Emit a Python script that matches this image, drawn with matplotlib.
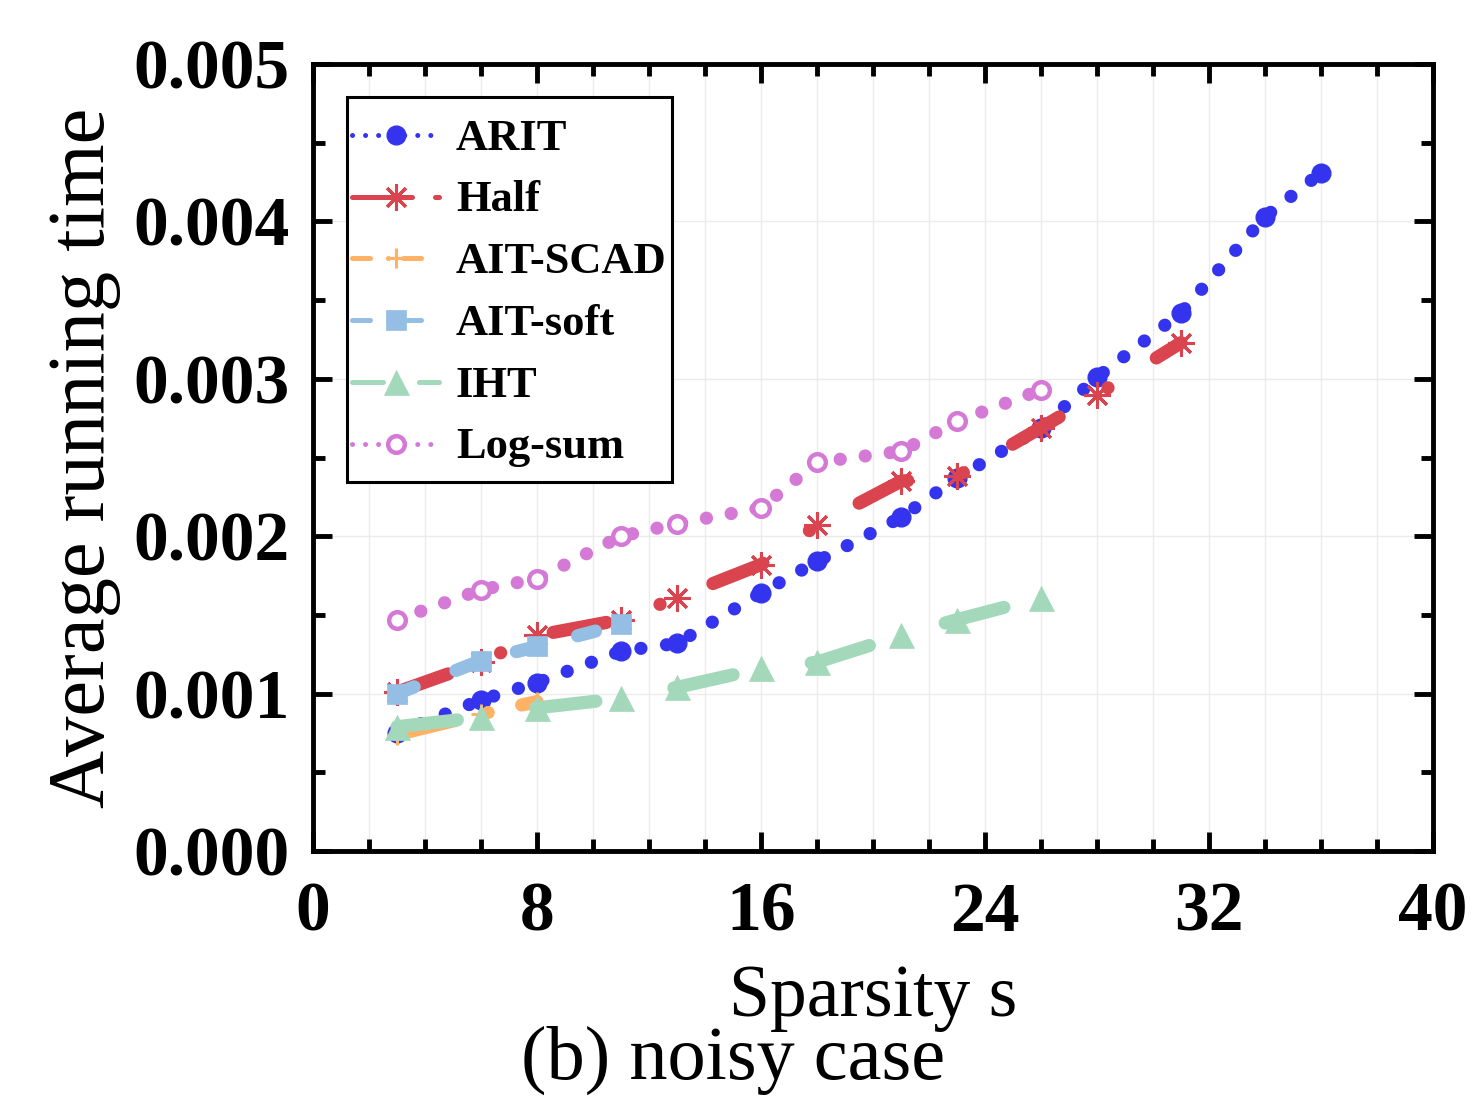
"""Average running time vs sparsity, noisy case."""

import matplotlib

matplotlib.use("Agg")
import matplotlib.pyplot as plt
from matplotlib.legend_handler import HandlerLine2D
from matplotlib.lines import Line2D
from matplotlib.ticker import FormatStrFormatter, MultipleLocator

plt.rcParams["font.family"] = ["Liberation Serif", "DejaVu Serif"]

# ---- data ----
x_arit = [3, 6, 8, 11, 13, 16, 18, 21, 23, 26, 28, 31, 34, 36]
y_arit = [0.00075, 0.00096, 0.00107, 0.00127, 0.00132, 0.00164, 0.00184,
          0.00212, 0.00237, 0.00269, 0.00301, 0.00342, 0.00403, 0.00431]

x_half = [3, 6, 8, 11, 13, 16, 18, 21, 23, 26, 28, 31]
y_half = [0.00101, 0.00120, 0.00137, 0.00147, 0.00161, 0.00182, 0.00207,
          0.00235, 0.00238, 0.00269, 0.00290, 0.00323]

x_scad = [3, 6, 8]
y_scad = [0.00074, 0.00087, 0.00095]

x_soft = [3, 6, 8, 11]
y_soft = [0.00100, 0.00121, 0.00130, 0.00144]

x_iht = [3, 6, 8, 11, 13, 16, 18, 21, 23, 26]
y_iht = [0.00079, 0.00085, 0.00091, 0.00097, 0.00104, 0.00116, 0.00120,
         0.00137, 0.00147, 0.00161]

x_log = [3, 6, 8, 11, 13, 16, 18, 21, 23, 26]
y_log = [0.00147, 0.00166, 0.00173, 0.00200, 0.00208, 0.00218, 0.00247,
         0.00254, 0.00273, 0.00293]

labels = ["ARIT", "Half", "AIT-SCAD", "AIT-soft", "IHT", "Log-sum"]
colors = ["#3434EE", "#D9444F", "#FFB266", "#95BEE4", "#A3D8BA", "#D47AD6"]

# (marker, size, edge width, face) per series
markers = [("o", 13.5, 1.0, None), ((8, 2, 0), 19, 2.2, None),
           ("+", 15, 2.2, None), ("s", 14.5, 0.5, None),
           ("^", 18, 0.5, None), ("o", 12, 3.2, "white")]

# dash patterns in linewidth units: thick lines in the plot, thin in the legend
plot_dashes = [(0.01, 1.95), (4.1, 4.3, 0.01, 4.3), (4.5, 2.6, 0.01, 2.6),
               (1.4, 3.4), (4.6, 6.0), (0.01, 1.9)]
legend_dashes = [(0.01, 2.6), (12, 4.6, 1, 4.6), (3.6, 3.6, 0.01, 3.0),
                 (3.6, 3.6, 0.01, 3.0), (6.2, 7.2), (0.01, 2.6)]

series = [(x_arit, y_arit), (x_half, y_half), (x_scad, y_scad),
          (x_soft, y_soft), (x_iht, y_iht), (x_log, y_log)]


class LowHandler(HandlerLine2D):
    # tall legend rows: put the sample line level with the label text
    def create_artists(self, legend, orig_handle, xdescent, ydescent,
                       width, height, fontsize, trans):
        return super().create_artists(legend, orig_handle, xdescent, ydescent,
                                      width, height - 0.4 * fontsize,
                                      fontsize, trans)


fig = plt.figure(figsize=(14.73, 10.97), dpi=100)
ax = fig.add_axes([0.2125, 0.2242, 0.7604, 0.7174])

handles = []
for (xs, ys), lab, col, mk, pd, ld in zip(series, labels, colors, markers,
                                         plot_dashes, legend_dashes):
    m, ms, mew, mfc = mk
    ax.plot(xs, ys, color=col, lw=9.5, dashes=pd, dash_capstyle="round",
            solid_capstyle="round", marker=m, ms=ms, mew=mew, mec=col,
            mfc=mfc if mfc else col, zorder=3)
    handles.append(Line2D([], [], color=col, lw=3.6, dashes=ld,
                          dash_capstyle="round", marker=m, ms=ms, mew=mew,
                          mec=col, mfc=mfc if mfc else col))

ax.set_xlim(0, 40)
ax.set_ylim(0, 0.005)
ax.xaxis.set_major_locator(MultipleLocator(8))
ax.xaxis.set_minor_locator(MultipleLocator(2))
ax.yaxis.set_major_locator(MultipleLocator(0.001))
ax.yaxis.set_minor_locator(MultipleLocator(0.0005))
ax.yaxis.set_major_formatter(FormatStrFormatter("%.3f"))

ax.grid(which="both", axis="x", color="#EBEBEB", lw=1.0, zorder=0)
ax.grid(which="major", axis="y", color="#EBEBEB", lw=1.0, zorder=0)
ax.set_axisbelow(True)

for sp in ax.spines.values():
    sp.set_linewidth(3.5)
ax.tick_params(which="both", direction="in", top=True, right=True, width=3.5)
ax.tick_params(which="major", length=14, labelsize=50)
ax.tick_params(which="minor", length=8.5)
ax.tick_params(axis="x", which="major", pad=22)
ax.tick_params(axis="y", which="major", pad=17)
for lab in ax.get_xticklabels() + ax.get_yticklabels():
    lab.set_fontweight("bold")

ax.set_xlabel("Sparsity s", fontsize=53, va="baseline")
ax.xaxis.set_label_coords(0.5, -0.2097)
ax.set_ylabel("Average running time", fontsize=58, va="baseline")
ax.yaxis.set_label_coords(-0.187, 0.5)

leg = ax.legend(handles, labels, loc="upper left",
                bbox_to_anchor=(0.0304, 0.958), borderaxespad=0,
                handler_map={Line2D: LowHandler()},
                prop={"weight": "bold", "size": 32}, handlelength=1.95,
                handleheight=1.9, handletextpad=0.38, labelspacing=-0.09,
                borderpad=0.12, fancybox=False, framealpha=1,
                edgecolor="black")
leg.get_frame().set_linewidth(2.2)

fig.text(0.4976, 0.0164, "(b) noisy case", fontsize=55, ha="center",
         va="baseline")

fig.savefig("out.png", dpi=100)
